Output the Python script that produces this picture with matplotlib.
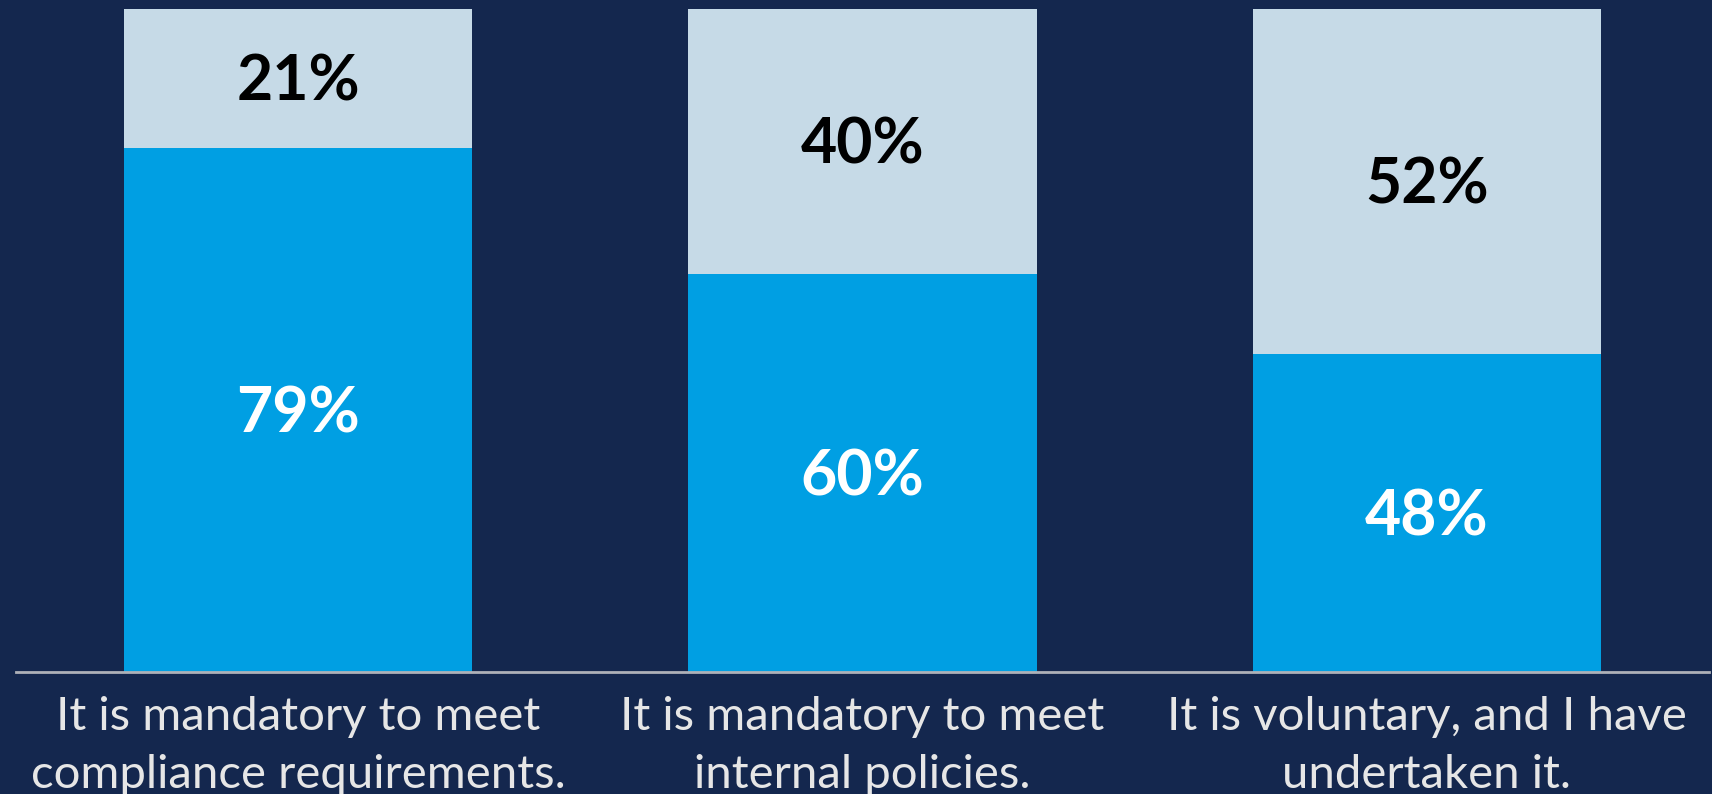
import matplotlib
matplotlib.use("Agg")
import matplotlib.pyplot as plt

categories = ["It is mandatory to meet\ncompliance requirements.",
              "It is mandatory to meet\ninternal policies.",
              "It is voluntary, and I have\nundertaken it."]
yes_vals = [79, 60, 48]
no_vals = [21, 40, 52]

bg = "#14274E"
blue = "#009FE3"
light = "#C6DAE7"

plt.rcParams['font.family'] = ['Lato', 'DejaVu Sans']

fig = plt.figure(figsize=(17.12, 7.94), dpi=100, facecolor=bg)
ax = fig.add_axes([16 / 1712, (794 - 672) / 794, 1693 / 1712, (672 - 9) / 794])
ax.set_facecolor(bg)

x = range(len(categories))
ax.bar(x, yes_vals, width=0.617, color=blue)
ax.bar(x, no_vals, width=0.617, bottom=yes_vals, color=light)

# value labels, digits centred in each segment
for i in x:
    ax.annotate(f"{yes_vals[i]}%", (i, yes_vals[i] / 2), xytext=(0, -16),
                textcoords="offset points", ha="center", va="baseline",
                color="white", fontsize=45, fontweight="bold")
    ax.annotate(f"{no_vals[i]}%", (i, yes_vals[i] + no_vals[i] / 2), xytext=(0, -16),
                textcoords="offset points", ha="center", va="baseline",
                color="black", fontsize=45, fontweight="bold")

# category labels under the axis, one text per line
for i, cat in enumerate(categories):
    for j, line in enumerate(cat.split("\n")):
        ax.annotate(line, (i, 0), xycoords=("data", "axes fraction"),
                    xytext=(0, -41.8 - 41.8 * j), textcoords="offset points",
                    ha="center", va="baseline", color="#E6E6E6", fontsize=34,
                    annotation_clip=False)

ax.set_xlim(-0.5, 2.5)
ax.set_ylim(0, 100)
ax.set_xticks([])
ax.set_yticks([])
for s in ["top", "right", "left"]:
    ax.spines[s].set_visible(False)
ax.spines["bottom"].set_color("#AEB1B8")
ax.spines["bottom"].set_linewidth(2)

fig.savefig("out.png", dpi=100, facecolor=bg)
